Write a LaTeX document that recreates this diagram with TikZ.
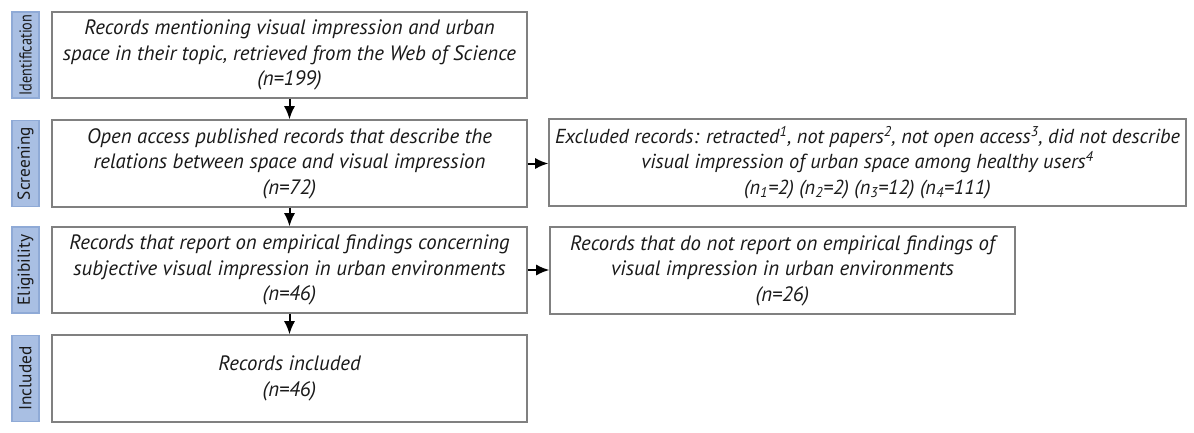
\documentclass[tikz,border=0pt]{standalone}
\usepackage{fontspec}
\setmainfont{PT Sans}
\usetikzlibrary{arrows.meta}
\definecolor{barfill}{HTML}{A9BFE3}
\definecolor{barline}{HTML}{8FAAD6}
\definecolor{boxline}{HTML}{808080}
\definecolor{txt}{HTML}{1A1A1A}
\tikzset{
  box/.style={draw=boxline, line width=1pt, fill=white, align=center, inner sep=0pt,
    font=\fontsize{15.6}{19.2}\selectfont\itshape, text=txt},
  bar/.style={draw=barline, line width=0.8pt, fill=barfill, rotate=90, inner sep=0pt,
    minimum width=64.5pt, minimum height=20.25pt, text=txt,
    font=\fontsize{13}{13}\selectfont},
  arr/.style={line width=1.5pt, -{Latex[length=10pt,width=8.5pt]}, black}
}
\begin{document}
\begin{tikzpicture}[x=0.75pt,y=-0.75pt]
\useasboundingbox (0,0) rectangle (1194,432);
% stage bars
\node[bar] (lid) at (25.5,55) {\scalebox{0.82}[1]{Identification}};
\node[bar] (lsc) at (25.5,163.5) {Screening};
\node[bar] (lel) at (25.5,270) {Eligibility};
\node[bar] (lin) at (25.5,378.5) {Included};
% boxes
\node[box, minimum width=356.25pt, minimum height=64.5pt] (b1) at (289.5,55)
  {Records mentioning visual impression and urban\\space in their topic, retrieved from the Web of Science\\(n=199)};
\node[box, minimum width=356.25pt, minimum height=65.25pt] (b2) at (289.5,163.5)
  {Open access published records that describe the\\relations between space and visual impression\\(n=72)};
\node[box, minimum width=477.75pt, minimum height=65.25pt, font=\fontsize{15.2}{19.2}\selectfont\itshape] (b3) at (867.5,162.5)
  {Excluded records: retracted\textsuperscript{1}, not papers\textsuperscript{2}, not open access\textsuperscript{3}, did not describe\\visual impression of urban space among healthy users\textsuperscript{4}\\(n\textsubscript{1}=2) (n\textsubscript{2}=2) (n\textsubscript{3}=12) (n\textsubscript{4}=111)};
\node[box, minimum width=356.25pt, minimum height=64.5pt] (b4) at (289.5,270)
  {Records that report on empirical findings concerning\\subjective visual impression in urban environments\\(n=46)};
\node[box, minimum width=348.75pt, minimum height=65.25pt] (b5) at (782.5,270.5)
  {Records that do not report on empirical findings of\\visual impression in urban environments\\(n=26)};
\node[box, minimum width=356.25pt, minimum height=65.25pt] (b6) at (289.5,378.5)
  {Records included\\(n=46)};
% arrows
\draw[arr] (b1.south) -- (b2.north);
\draw[arr] (b2.south) -- (b4.north);
\draw[arr] (b4.south) -- (b6.north);
\draw[arr] (b2.east) -- (b2.east -| b3.west);
\draw[arr] (b4.east) -- (b4.east -| b5.west);
\end{tikzpicture}
\end{document}
